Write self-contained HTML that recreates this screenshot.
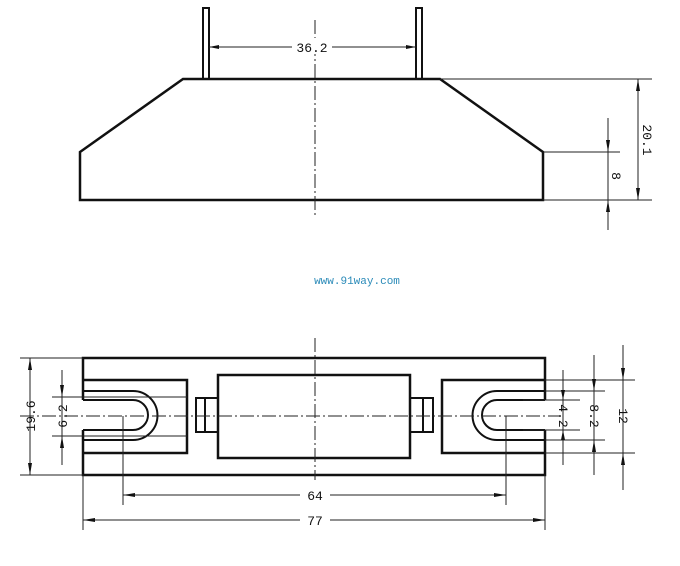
<!DOCTYPE html><html><head><style>body{margin:0;background:#fff}</style></head><body>
<svg width="680" height="561" xmlns="http://www.w3.org/2000/svg" font-family="Liberation Mono, monospace">
<rect width="680" height="561" fill="#fff"/>
<g stroke="#111" stroke-width="2.5" fill="none">
<path d="M80,152 L183,79 L440,79 L543,152 L543,200 L80,200 Z"/>
<path d="M203,79 V8 H209 V79 M416,79 V8 H422 V79" stroke-width="2"/>
<path d="M83,400 V358 H545 V400 M545,430 V475 H83 V430"/>
<path d="M83,380 H187 V453 H83 M545,380 H442 V453 H545"/>
<rect x="218" y="375" width="192" height="83"/>
<path d="M83,391 H133 A 24 24 0 0 1 133,440 H83 M83,400 H133 A15 15 0 0 1 133,430 H83" stroke-width="2"/>
<path d="M545,391 H497 A 24 24 0 0 0 497,440 H545 M545,400 H497 A15 15 0 0 0 497,430 H545" stroke-width="2"/>
<path d="M218,398 H205 V432 H218 M196,398 H205 V432 H196 Z M410,398 H423 V432 H410 M423,398 H433 V432 H423 Z" stroke-width="2"/>
</g>
<g stroke="#222" stroke-width="1" fill="none">
<path d="M315,20 V215 M20,416 H560 M315,338 V480" stroke-dasharray="14,3,2,3"/>
<path d="M440,79 H652 M543,152 H620 M543,200 H652 M638,79 V200 M608,118 V230"/>
<path d="M209,47 H416"/>
<path d="M20,358 H83 M20,475 H83 M52,397 H187 M52,436 H187 M30,358 V475 M62,370 V465"/>
<path d="M545,380 H635 M545,453 H635 M545,391 H605 M545,440 H605 M523,400 H580 M523,430 H580 M563,370 V465 M594,355 V475 M623,345 V490"/>
<path d="M123,416 V505 M506,416 V505 M83,475 V530 M545,475 V530 M123,495 H506 M83,520 H545"/>
</g>
<g fill="#111">
<path d="M209,47 l10,-2 v4z M416,47 l-10,-2 v4z M123,495 l12,-2 v4z M506,495 l-12,-2 v4z M83,520 l12,-2 v4z M545,520 l-12,-2 v4z"/>
<path d="M638,79 l-2,12 h4z M638,200 l-2,-12 h4z M608,152 l-2,-12 h4z M608,200 l-2,12 h4z"/>
<path d="M30,358 l-2,12 h4z M30,475 l-2,-12 h4z M62,397 l-2,-12 h4z M62,436 l-2,12 h4z"/>
<path d="M563,400 l-2,-10 h4z M563,430 l-2,10 h4z M594,391 l-2,-12 h4z M594,440 l-2,12 h4z M623,380 l-2,-12 h4z M623,453 l-2,12 h4z"/>
</g>
<g font-size="13" fill="#111" text-anchor="middle">
<rect x="292" y="38" width="40" height="16" fill="#fff"/>
<text x="312" y="52">36.2</text>
<rect x="300" y="487" width="30" height="16" fill="#fff"/><text x="315" y="500">64</text>
<rect x="300" y="512" width="30" height="16" fill="#fff"/><text x="315" y="525">77</text>
<text transform="translate(643,140) rotate(90)">20.1</text>
<text transform="translate(612,176) rotate(90)">8</text>
<text transform="translate(35,416) rotate(-90)">19.6</text>
<text transform="translate(67,416) rotate(-90)">6.2</text>
<text transform="translate(559,416) rotate(90)">4.2</text>
<text transform="translate(590,416) rotate(90)">8.2</text>
<text transform="translate(619,416) rotate(90)">12</text>
<text x="357" y="284" font-size="11" fill="#2a8ab8">www.91way.com</text>
</g>
</svg></body></html>
